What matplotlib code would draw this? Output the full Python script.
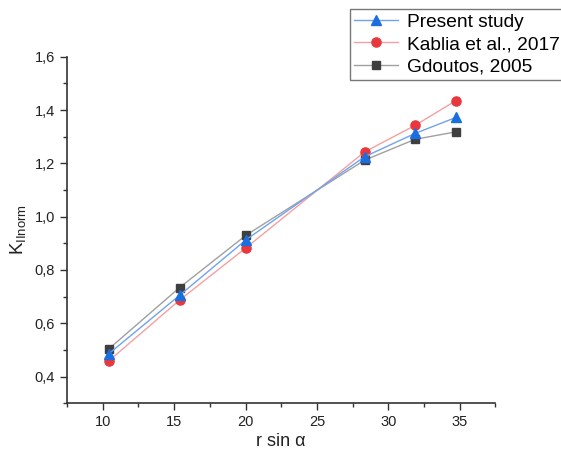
import matplotlib
matplotlib.use("Agg")
import matplotlib.pyplot as plt
from matplotlib.ticker import MultipleLocator, FuncFormatter

plt.rcParams['font.family'] = ['Liberation Sans', 'DejaVu Sans']

x = [10.43, 15.38, 20.05, 28.34, 31.86, 34.72]
present = [0.486, 0.705, 0.914, 1.225, 1.312, 1.372]
kablia = [0.459, 0.687, 0.884, 1.243, 1.342, 1.435]
gdoutos = [0.504, 0.734, 0.931, 1.212, 1.290, 1.318]
labels = ["Present study", "Kablia et al., 2017", "Gdoutos, 2005"]

fig = plt.figure(figsize=(5.61, 4.53), dpi=100)
ax = fig.add_axes([67/561, 1 - 403.3/453, (495.5 - 67)/561, (403.3 - 56.7)/453])

h1, = ax.plot(x, present, color='#6fa3f0', lw=1, marker='^', ms=7.3,
              mfc='#1a6fdf', mec='#1a6fdf', label=labels[0], zorder=3)
h2, = ax.plot(x, kablia, color='#f4a0a0', lw=1, marker='o', ms=6.6,
              mfc='#e8383d', mec='#e8383d', label=labels[1], zorder=2)
h3, = ax.plot(x, gdoutos, color='#a0a0a0', lw=1, marker='s', ms=5.8,
              mfc='#3f3f3f', mec='#3f3f3f', label=labels[2], zorder=1)

ax.set_xlim(7.5, 37.5)
ax.set_ylim(0.3, 1.6)
ax.xaxis.set_major_locator(MultipleLocator(5))
ax.xaxis.set_minor_locator(MultipleLocator(2.5))
ax.yaxis.set_minor_locator(MultipleLocator(0.1))
ax.set_yticks([0.4, 0.6, 0.8, 1.0, 1.2, 1.4, 1.6])
ax.yaxis.set_major_formatter(FuncFormatter(lambda v, p: f"{v:.1f}".replace('.', ',')))
ax.xaxis.set_major_formatter(FuncFormatter(lambda v, p: f"{v:.0f}"))

for s in ['top', 'right']:
    ax.spines[s].set_visible(False)
for s in ['left', 'bottom']:
    ax.spines[s].set_color('#333333')
    ax.spines[s].set_linewidth(1.2)

ax.tick_params(which='major', direction='out', length=5, width=1, colors='#333333',
               labelsize=10.5, labelcolor='#222222')
ax.tick_params(which='minor', direction='out', length=3, width=1, colors='#333333')

ax.set_xlabel(r"r sin α", fontsize=13, color='#222222', labelpad=3)
ax.set_ylabel(r"K$_{\mathregular{IInorm}}$", fontsize=13.5, color='#222222', labelpad=4)

leg = fig.legend(handles=[h1, h2, h3], loc='upper left',
                 bbox_to_anchor=(350/561, 1 - 9.3/453), fontsize=13.8,
                 frameon=True, fancybox=False, shadow=False,
                 handlelength=2.3, labelspacing=0.25, borderpad=0.22,
                 handletextpad=0.45, borderaxespad=0)
leg.get_frame().set_edgecolor('#555555')
leg.get_frame().set_linewidth(1)

fig.savefig("out.png", dpi=100)
